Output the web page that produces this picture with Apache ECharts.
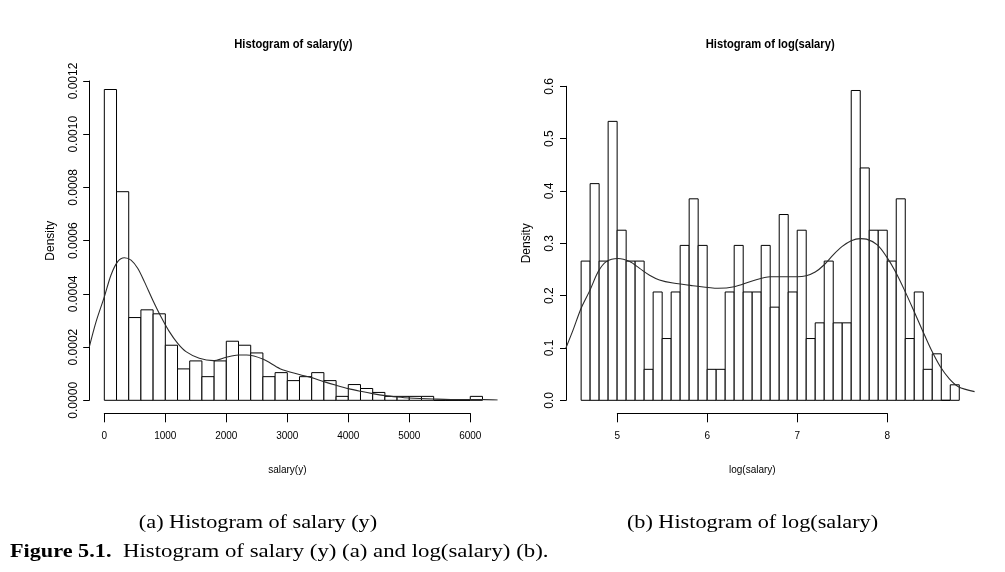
<!DOCTYPE html>
<html>
<head>
<meta charset="utf-8">
<script src="https://cdn.jsdelivr.net/npm/echarts@6/dist/echarts.min.js"></script>
<style>
html,body{margin:0;padding:0;background:#fff;}
#chart{width:1005px;height:572px;}
</style>
</head>
<body>
<div id="chart"></div>
<script>
// ---------- data ----------
const salaryBreaks = [0,200,400,600,800,1000,1200,1400,1600,1800,2000,2200,2400,2600,2800,3000,3200,3400,3600,3800,4000,4200,4400,4600,4800,5000,5200,5400,5600,5800,6000,6200];
const salaryDensity = [0.001168,0.000784,0.000311,0.000340,0.000325,0.000207,0.000118,0.000148,0.0000888,0.000148,0.000222,0.000207,0.000178,0.0000888,0.000104,0.000074,0.0000888,0.000104,0.000074,0.0000148,0.0000592,0.0000444,0.0000296,0.0000148,0.0000148,0.0000148,0.0000148,0,0,0,0.0000148];
const salaryCurveX = [-246,-136,0,110,219,328,438,547,656,793,929,1066,1203,1339,1557,1787,2000,2197,2333,2607,2880,3197,3400,3600,3803,4000,4202,4399,4601,4803,5000,5399,5831,6213,6448];
const salaryCurveY = [0.000201,0.000295,0.000389,0.000471,0.000521,0.000536,0.000527,0.000496,0.000446,0.000377,0.000314,0.000258,0.000214,0.000183,0.000158,0.000149,0.000162,0.00017,0.00017,0.000154,0.000119,0.000097,0.0000852,0.0000702,0.0000564,0.0000439,0.0000338,0.000025,0.0000175,0.0000125,0.0000088,0.000005,0.0000025,0.0000025,0.0000012];
const salaryXTicks = [0,1000,2000,3000,4000,5000,6000];
const salaryYTicks = [0,0.0002,0.0004,0.0006,0.0008,0.0010,0.0012];

const logBreaks = [4.6,4.7,4.8,4.9,5.0,5.1,5.2,5.3,5.4,5.5,5.6,5.7,5.8,5.9,6.0,6.1,6.2,6.3,6.4,6.5,6.6,6.7,6.8,6.9,7.0,7.1,7.2,7.3,7.4,7.5,7.6,7.7,7.8,7.9,8.0,8.1,8.2,8.3,8.4,8.5,8.6,8.7,8.8];
const logDensity = [0.266,0.414,0.266,0.533,0.325,0.266,0.266,0.0592,0.207,0.118,0.207,0.296,0.385,0.296,0.0592,0.0592,0.207,0.296,0.207,0.207,0.296,0.178,0.355,0.207,0.325,0.118,0.148,0.266,0.148,0.148,0.592,0.444,0.325,0.325,0.266,0.385,0.118,0.207,0.0592,0.0888,0,0.0296];
const logCurveX = [4.43,4.51,4.6,4.7,4.79,4.88,5.01,5.14,5.25,5.36,5.47,5.62,5.84,6.12,6.3,6.5,6.7,6.8,7.0,7.1,7.2,7.3,7.4,7.5,7.6,7.7,7.77,7.89,7.99,8.09,8.19,8.29,8.39,8.49,8.59,8.69,8.79,8.97];
const logCurveY = [0.0994,0.134,0.176,0.211,0.246,0.265,0.271,0.265,0.252,0.239,0.230,0.224,0.219,0.214,0.217,0.228,0.236,0.236,0.236,0.238,0.245,0.259,0.278,0.294,0.305,0.309,0.308,0.297,0.275,0.246,0.211,0.173,0.134,0.096,0.064,0.041,0.026,0.0166];
const logXTicks = [5,6,7,8];
const logYTicks = [0,0.1,0.2,0.3,0.4,0.5,0.6];

const titles = ['Histogram of salary(y)', 'Histogram of log(salary)'];
const xNames = ['salary(y)', 'log(salary)'];
const yName = 'Density';
const subCaptions = ['(a) Histogram of salary (y)', '(b) Histogram of log(salary)'];
const figureLabel = 'Figure 5.1.';
const figureText = 'Histogram of salary (y) (a) and log(salary) (b).';

// ---------- helpers ----------
const SANS = '"Liberation Sans",Arial,Helvetica,sans-serif';
const SERIF = '"Liberation Serif","Times New Roman",serif';

function bars(breaks, dens) {
  return dens.map((d, i) => [breaks[i], breaks[i + 1], d]);
}
function renderBar(params, api) {
  const p0 = api.coord([api.value(0), api.value(2)]);
  const p1 = api.coord([api.value(1), 0]);
  return {
    type: 'rect',
    shape: { x: p0[0], y: p0[1], width: p1[0] - p0[0], height: p1[1] - p0[1] },
    style: { fill: '#fff', stroke: '#000', lineWidth: 1 }
  };
}
function visibleX(grid, ticks, name, fmt) {
  return {
    gridIndex: grid, type: 'value',
    min: ticks[0], max: ticks[ticks.length - 1], interval: ticks[1] - ticks[0],
    position: 'bottom',
    axisLine: { show: true, onZero: false, lineStyle: { color: '#000', width: 1 } },
    axisTick: { show: true, inside: false, length: 9, lineStyle: { color: '#000', width: 1 } },
    axisLabel: { show: true, margin: 18, color: '#000', fontFamily: SANS, fontSize: 10, formatter: fmt },
    splitLine: { show: false },
    name: name, nameLocation: 'middle', nameGap: 52,
    nameTextStyle: { color: '#000', fontFamily: SANS, fontSize: 10 }
  };
}
function visibleY(grid, ticks, digits) {
  return {
    gridIndex: grid, type: 'value',
    min: ticks[0], max: ticks[ticks.length - 1], interval: ticks[1] - ticks[0],
    position: 'left',
    axisLine: { show: true, onZero: false, lineStyle: { color: '#000', width: 1 } },
    axisTick: { show: true, inside: false, length: 6, lineStyle: { color: '#000', width: 1 } },
    axisLabel: { show: true, rotate: 90, margin: 10, color: '#000', fontFamily: SANS, fontSize: 12,
      formatter: v => Number(v).toFixed(digits) },
    splitLine: { show: false },
    name: yName, nameLocation: 'middle', nameRotate: 90, nameGap: 33,
    nameTextStyle: { color: '#000', fontFamily: SANS, fontSize: 12 }
  };
}
function hiddenAxis(grid, min, max) {
  return { gridIndex: grid, type: 'value', min: min, max: max, show: false,
    axisLine: { onZero: false }, splitLine: { show: false } };
}
function curve(xs, ys, xi, yi) {
  return {
    type: 'line', xAxisIndex: xi, yAxisIndex: yi, z: 5,
    data: xs.map((x, i) => [x, ys[i]]),
    showSymbol: false, symbol: 'none', smooth: 0.3,
    lineStyle: { color: '#2b2b2b', width: 1.1 }, silent: true
  };
}
function caption(text, x, y, font, align, sx) {
  return { type: 'text', x: x, y: y, scaleX: sx,
    style: { text: text, font: font, fill: '#000',
      align: align, verticalAlign: 'middle', textAlign: align, textVerticalAlign: 'middle' } };
}

const option = {
  animation: false,
  backgroundColor: '#fff',
  grid: [
    { left: 89.2, top: 81, width: 408.4, height: 319.3 },
    { left: 104.3, top: 300, width: 366, height: 113.3 },
    { left: 566, top: 86.3, width: 408.4, height: 314 },
    { left: 617.3, top: 300, width: 270, height: 113.3 }
  ],
  xAxis: [
    hiddenAxis(0, -248, 6448),
    visibleX(1, salaryXTicks, xNames[0], v => String(v)),
    hiddenAxis(2, 4.432, 8.968),
    visibleX(3, logXTicks, xNames[1], v => String(v))
  ],
  yAxis: [
    visibleY(0, salaryYTicks, 4),
    hiddenAxis(1, 0, 1),
    visibleY(2, logYTicks, 1),
    hiddenAxis(3, 0, 1)
  ],
  series: [
    { type: 'custom', xAxisIndex: 0, yAxisIndex: 0, renderItem: renderBar,
      encode: { x: [0, 1], y: 2 }, data: bars(salaryBreaks, salaryDensity), silent: true },
    curve(salaryCurveX, salaryCurveY, 0, 0),
    { type: 'custom', xAxisIndex: 2, yAxisIndex: 2, renderItem: renderBar,
      encode: { x: [0, 1], y: 2 }, data: bars(logBreaks, logDensity), silent: true },
    curve(logCurveX, logCurveY, 2, 2)
  ],
  graphic: [
    caption(titles[0], 293.4, 44, 'bold 13.5px ' + SANS, 'center', 0.83),
    caption(titles[1], 770.2, 44, 'bold 13.5px ' + SANS, 'center', 0.83),
    caption(subCaptions[0], 258, 523, '19px ' + SERIF, 'center', 1.17),
    caption(subCaptions[1], 752.5, 523, '19px ' + SERIF, 'center', 1.17),
    caption(figureLabel, 10, 552, 'bold 19px ' + SERIF, 'left', 1.17),
    caption(figureText, 123, 552, '19px ' + SERIF, 'left', 1.2)
  ]
};

const chart = echarts.init(document.getElementById('chart'), null, { renderer: 'canvas' });
chart.setOption(option);
</script>
</body>
</html>
